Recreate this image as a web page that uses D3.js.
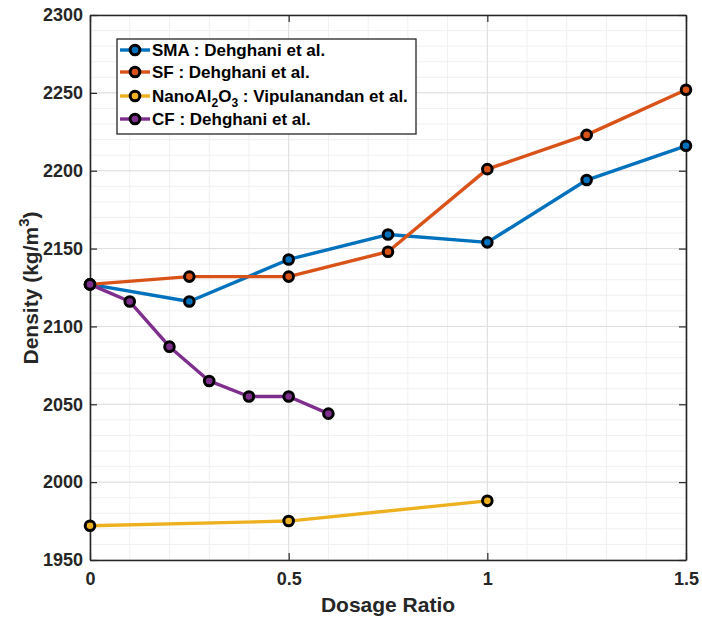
<!DOCTYPE html>
<html><head><meta charset="utf-8">
<script src="https://cdn.jsdelivr.net/npm/d3@7"></script>
<style>body{margin:0;background:#fff;}svg{display:block;font-family:"Liberation Sans",Arial,sans-serif;}</style>
</head><body><svg id="c" width="702" height="619"></svg>
<script>
const smaX=[0,0.25,0.5,0.75,1,1.25,1.5];
const smaY=[2127,2116,2143,2159,2154,2194,2216];
const sfX=[0,0.25,0.5,0.75,1,1.25,1.5];
const sfY=[2127,2132,2132,2148,2201,2223,2252];
const nanoX=[0,0.5,1];
const nanoY=[1972,1975,1988];
const cfX=[0,0.1,0.2,0.3,0.4,0.5,0.6];
const cfY=[2127,2116,2087,2065,2055,2055,2044];
const xTicks=[0,0.5,1,1.5];
const yTicks=[1950,2000,2050,2100,2150,2200,2250,2300];
const seriesNames=["SMA : Dehghani et al.","SF : Dehghani et al.","NanoAl2O3 : Vipulanandan et al.","CF : Dehghani et al."];
const colors=["#0072BD","#D95319","#EDB120","#7E2F8E"];

const L=90,R=686,T=15,B=560;
const svg=d3.select("#c");
const x=d3.scaleLinear().domain([0,1.5]).range([L,R]);
const y=d3.scaleLinear().domain([1950,2300]).range([B,T]);

// grid
const g=svg.append("g");
g.selectAll(".mx").data(d3.range(0,1.5001,0.1)).enter().append("line")
 .attr("x1",d=>x(d)).attr("x2",d=>x(d)).attr("y1",T).attr("y2",B).attr("stroke","#f0f0f0").attr("stroke-width",1);
g.selectAll(".my").data(d3.range(1950,2300.1,10)).enter().append("line")
 .attr("y1",d=>y(d)).attr("y2",d=>y(d)).attr("x1",L).attr("x2",R).attr("stroke","#f0f0f0").attr("stroke-width",1);
g.selectAll(".gx").data(xTicks).enter().append("line")
 .attr("x1",d=>x(d)).attr("x2",d=>x(d)).attr("y1",T).attr("y2",B).attr("stroke","#dedede").attr("stroke-width",1);
g.selectAll(".gy").data(yTicks).enter().append("line")
 .attr("y1",d=>y(d)).attr("y2",d=>y(d)).attr("x1",L).attr("x2",R).attr("stroke","#dedede").attr("stroke-width",1);

// axes
const xAx=svg.append("g").attr("transform",`translate(0,${B})`)
 .call(d3.axisBottom(x).tickValues(xTicks).tickFormat(d3.format("")).tickSizeInner(-7).tickSizeOuter(0).tickPadding(12.5));
const xAxT=svg.append("g").attr("transform",`translate(0,${T})`)
 .call(d3.axisTop(x).tickValues(xTicks).tickFormat("").tickSizeInner(-7).tickSizeOuter(0));
const yAx=svg.append("g").attr("transform",`translate(${L},0)`)
 .call(d3.axisLeft(y).tickValues(yTicks).tickFormat(d3.format("d")).tickSizeInner(-7).tickSizeOuter(0).tickPadding(7));
const yAxR=svg.append("g").attr("transform",`translate(${R},0)`)
 .call(d3.axisRight(y).tickValues(yTicks).tickFormat("").tickSizeInner(-7).tickSizeOuter(0));
[xAx,xAxT,yAx,yAxR].forEach(a=>{a.select(".domain").attr("stroke","#262626").attr("stroke-width",1.6);
 a.selectAll(".tick line").attr("stroke","#262626").attr("stroke-width",1.2);
 a.selectAll("text").attr("font-size",18).attr("font-weight","bold").attr("fill","#262626").attr("font-family","'Liberation Sans',Arial,sans-serif");});

// lines
const data=[[smaX,smaY],[sfX,sfY],[nanoX,nanoY],[cfX,cfY]];
const line=d3.line().x(d=>x(d[0])).y(d=>y(d[1]));
data.forEach((s,i)=>{
 const pts=s[0].map((v,k)=>[v,s[1][k]]);
 svg.append("path").datum(pts).attr("d",line).attr("fill","none").attr("stroke",colors[i]).attr("stroke-width",3.4).attr("stroke-linejoin","round");
 svg.selectAll(null).data(pts).enter().append("circle").attr("cx",d=>x(d[0])).attr("cy",d=>y(d[1])).attr("r",4.8)
  .attr("fill",colors[i]).attr("stroke","#000").attr("stroke-width",3);
});

// legend
const lg=svg.append("g");
lg.append("rect").attr("x",117).attr("y",39).attr("width",299).attr("height",95).attr("fill","#fff").attr("stroke","#262626").attr("stroke-width",1.3);
const rowY=[50,72,96,119];
seriesNames.forEach((n,i)=>{
 lg.append("line").attr("x1",120).attr("x2",150).attr("y1",rowY[i]).attr("y2",rowY[i]).attr("stroke",colors[i]).attr("stroke-width",3.4);
 lg.append("circle").attr("cx",135).attr("cy",rowY[i]).attr("r",4.8).attr("fill",colors[i]).attr("stroke","#000").attr("stroke-width",3);
 const t=lg.append("text").attr("x",152).attr("y",rowY[i]+6).attr("font-size",17).attr("font-weight","bold").attr("fill","#000");
 if(i===2){
  t.append("tspan").text("NanoAl");
  t.append("tspan").attr("font-size",12).attr("dy",5).text("2");
  t.append("tspan").attr("dy",-5).text("O");
  t.append("tspan").attr("font-size",12).attr("dy",5).text("3");
  t.append("tspan").attr("dy",-5).text(" : Vipulanandan et al.");
 } else t.text(n);
});

// titles
svg.append("text").attr("x",(L+R)/2).attr("y",612).attr("text-anchor","middle").attr("font-size",21).attr("font-weight","bold").attr("fill","#262626").text("Dosage Ratio");
const yt=svg.append("text").attr("transform","translate(38,288) rotate(-90)").attr("text-anchor","middle").attr("font-size",21).attr("font-weight","bold").attr("fill","#262626");
yt.append("tspan").text("Density (kg/m");
yt.append("tspan").attr("font-size",15).attr("dy",-9).text("3");
yt.append("tspan").attr("dy",9).text(")");
</script></body></html>
